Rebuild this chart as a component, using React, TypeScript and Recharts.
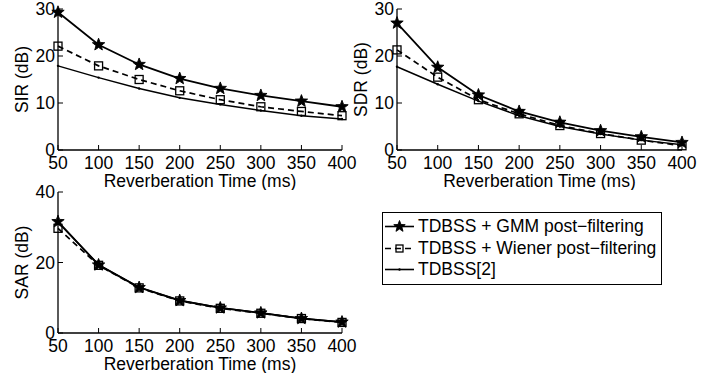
import type { ReactElement } from "react";
import { Legend, Line, LineChart, XAxis, YAxis } from "recharts";

// Separation results vs reverberation time (three metrics, three methods).
const times = [50, 100, 150, 200, 250, 300, 350, 400];

const sirGmm = [29.3, 22.4, 18.2, 15.2, 13.1, 11.6, 10.4, 9.2];
const sirWiener = [22.1, 17.9, 15.0, 12.6, 10.7, 9.2, 8.2, 7.3];
const sirBase = [17.9, 15.4, 13.1, 11.1, 9.7, 8.4, 7.3, 6.6];

const sdrGmm = [27.0, 17.6, 11.7, 8.2, 5.9, 4.1, 2.8, 1.6];
const sdrWiener = [21.3, 15.5, 10.7, 7.7, 5.2, 3.5, 2.1, 0.9];
const sdrBase = [17.7, 14.0, 10.4, 7.3, 5.0, 3.4, 2.1, 1.1];

const sarGmm = [31.6, 19.3, 12.9, 9.2, 7.1, 5.7, 4.1, 3.1];
const sarWiener = [29.7, 19.2, 12.8, 9.1, 7.0, 5.6, 4.1, 3.0];
const sarBase = [31.4, 19.4, 13.0, 9.3, 7.2, 5.7, 4.2, 3.1];

const seriesNames = [
  "TDBSS + GMM post\u2212filtering",
  "TDBSS + Wiener post\u2212filtering",
  "TDBSS[2]",
];

const xTicks = [50, 100, 150, 200, 250, 300, 350, 400];
const yTicks30 = [0, 10, 20, 30];
const yTicks40 = [0, 20, 40];

const FONT = '"Liberation Sans", Arial, Helvetica, sans-serif';
const FS = 17.5;

function toRows(gmm: number[], wiener: number[], base: number[]) {
  return times.map((t, i) => ({ t, gmm: gmm[i], wiener: wiener[i], base: base[i] }));
}

function Star({ cx, cy, r = 6.5 }: { cx: number; cy: number; r?: number }) {
  const pts: string[] = [];
  for (let k = 0; k < 10; k++) {
    const rad = k % 2 === 0 ? r : r * 0.42;
    const a = -Math.PI / 2 + (k * Math.PI) / 5;
    pts.push(`${cx + rad * Math.cos(a)},${cy + rad * Math.sin(a)}`);
  }
  return <polygon points={pts.join(" ")} fill="#000" stroke="#000" strokeWidth={0.9} />;
}

function Square({ cx, cy, s = 4 }: { cx: number; cy: number; s?: number }) {
  return (
    <rect x={cx - s} y={cy - s} width={s * 2} height={s * 2} fill="none" stroke="#000" strokeWidth={1.3} />
  );
}

function Pt({ cx, cy }: { cx: number; cy: number }) {
  return <circle cx={cx} cy={cy} r={1.2} fill="#000" />;
}

const starDot = (p: any): ReactElement => <Star key={p.index} cx={p.cx} cy={p.cy} />;
const squareDot = (p: any): ReactElement => <Square key={p.index} cx={p.cx} cy={p.cy} />;
const ptDot = (p: any): ReactElement => <Pt key={p.index} cx={p.cx} cy={p.cy} />;

const tickStyle = { fontSize: FS, fill: "#000", fontFamily: FONT };

function LegendBox({ payload }: any) {
  const icons: Record<string, (x: number, y: number) => ReactElement> = {
    gmm: (x, y) => <Star cx={x} cy={y} r={6} />,
    wiener: (x, y) => <Square cx={x} cy={y} s={3.5} />,
    base: (x, y) => <Pt cx={x} cy={y} />,
  };
  const dash: Record<string, string | undefined> = { wiener: "6 4" };
  return (
    <div
      style={{
        width: 280,
        height: 73,
        boxSizing: "border-box",
        border: "1.5px solid #000",
        background: "#fff",
        paddingTop: 3,
        fontFamily: FONT,
        fontSize: FS,
        color: "#000",
      }}
    >
      {(payload || []).map((e: any) => (
        <div key={e.dataKey} style={{ display: "flex", alignItems: "center", height: 21.5 }}>
          <svg width={34} height={21} style={{ flex: "none" }}>
            <line x1={2} x2={31} y1={10.5} y2={10.5} stroke="#000" strokeWidth={1.6} strokeDasharray={dash[e.dataKey]} />
            {icons[e.dataKey](16.5, 10.5)}
          </svg>
          <span style={{ marginLeft: 1, whiteSpace: "nowrap", lineHeight: "21px" }}>{e.value}</span>
        </div>
      ))}
    </div>
  );
}

interface PanelProps {
  rows: ReturnType<typeof toRows>;
  yLabel: string;
  yTicks: number[];
  left: number;
  top: number;
  width: number;
  right: number;
  withLegend?: boolean;
}

function Panel({ rows, yLabel, yTicks, left, top, width, right, withLegend }: PanelProps) {
  const yMax = yTicks[yTicks.length - 1];
  const yLabelContent = (p: any) => {
    const vb = p.viewBox;
    const cx = vb.x + vb.width - 36;
    const cy = vb.y + vb.height / 2;
    return (
      <text
        x={cx}
        y={cy}
        transform={`rotate(-90 ${cx} ${cy})`}
        textAnchor="middle"
        dominantBaseline="central"
        fontSize={FS}
        fontFamily={FONT}
        fill="#000"
      >
        {yLabel}
      </text>
    );
  };
  const xLabelContent = (p: any) => {
    const vb = p.viewBox;
    return (
      <text
        x={vb.x + vb.width / 2}
        y={vb.y + 31}
        textAnchor="middle"
        dominantBaseline="central"
        fontSize={FS}
        fontFamily={FONT}
        fill="#000"
      >
        Reverberation Time (ms)
      </text>
    );
  };
  const axisLine = { stroke: "#000", strokeWidth: 1.3 };
  return (
    <div style={{ position: "absolute", left, top }}>
      <LineChart width={width} height={190} data={rows} margin={{ top: 9, right, bottom: 0, left: 0 }}>
        <XAxis
          dataKey="t"
          type="number"
          domain={[50, 400]}
          ticks={xTicks}
          interval={0}
          height={40}
          tickSize={-5}
          tickMargin={12}
          tick={tickStyle}
          stroke="#000"
          axisLine={axisLine}
          tickLine={{ stroke: "#000" }}
          label={xLabelContent}
        />
        <XAxis
          xAxisId="top"
          orientation="top"
          type="number"
          domain={[50, 400]}
          ticks={xTicks}
          interval={0}
          height={0}
          tickSize={-5}
          tickFormatter={() => ""}
          stroke="#000"
          axisLine={axisLine}
        />
        <YAxis
          type="number"
          domain={[0, yMax]}
          ticks={yTicks}
          interval={0}
          width={58}
          tickSize={-5}
          tickMargin={8}
          tick={tickStyle}
          stroke="#000"
          axisLine={axisLine}
          label={yLabelContent}
        />
        <YAxis
          yAxisId="right"
          orientation="right"
          type="number"
          domain={[0, yMax]}
          ticks={yTicks}
          interval={0}
          width={0}
          tickSize={-5}
          tickFormatter={() => ""}
          stroke="#000"
          axisLine={axisLine}
        />
        <Line
          dataKey="gmm"
          name={seriesNames[0]}
          type="linear"
          stroke="#000"
          strokeWidth={1.8}
          dot={starDot}
          activeDot={false}
          isAnimationActive={false}
        />
        <Line
          dataKey="wiener"
          name={seriesNames[1]}
          type="linear"
          stroke="#000"
          strokeWidth={1.7}
          strokeDasharray="6 4"
          dot={squareDot}
          activeDot={false}
          isAnimationActive={false}
        />
        <Line
          dataKey="base"
          name={seriesNames[2]}
          type="linear"
          stroke="#000"
          strokeWidth={1.5}
          dot={ptDot}
          activeDot={false}
          isAnimationActive={false}
        />
        {withLegend && (
          <Legend
            layout="horizontal"
            verticalAlign="middle"
            align="center"
            wrapperStyle={{ left: 382, top: 29, width: 280 }}
            content={LegendBox}
          />
        )}
      </LineChart>
    </div>
  );
}

export default function App() {
  return (
    <div style={{ position: "absolute", left: 0, top: 0, width: 718, height: 377, background: "#fff", overflow: "hidden" }}>
      <Panel rows={toRows(sirGmm, sirWiener, sirBase)} yLabel="SIR (dB)" yTicks={yTicks30} left={0} top={0} width={360} right={18} />
      <Panel rows={toRows(sdrGmm, sdrWiener, sdrBase)} yLabel="SDR (dB)" yTicks={yTicks30} left={339} top={0} width={361} right={18} />
      <Panel
        rows={toRows(sarGmm, sarWiener, sarBase)}
        yLabel="SAR (dB)"
        yTicks={yTicks40}
        left={0}
        top={183}
        width={718}
        right={376}
        withLegend
      />
    </div>
  );
}
